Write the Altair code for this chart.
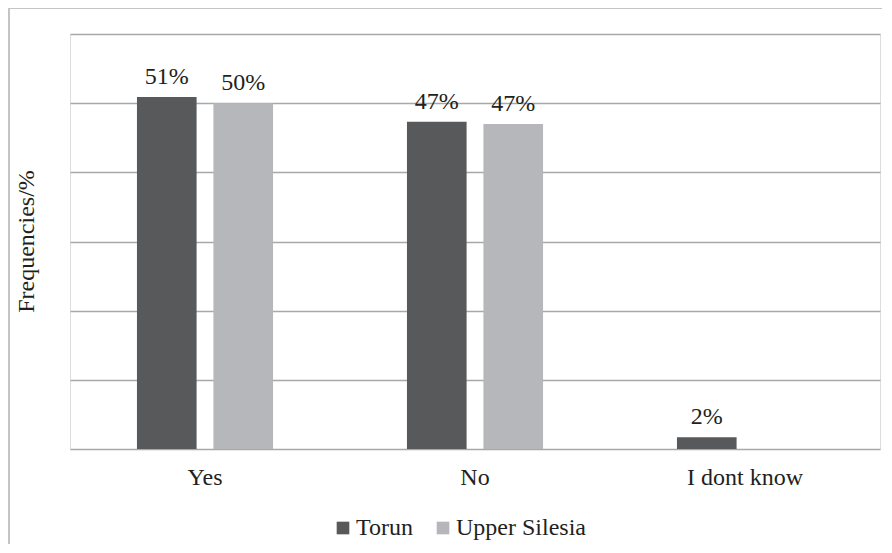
import altair as alt
import pandas as pd

categories = ["Yes", "No", "I dont know"]
series = ["Torun", "Upper Silesia"]
torun = [50.9, 47.3, 1.7]
silesia = [50.0, 47.0, None]
labels_torun = ["51%", "47%", "2%"]
labels_silesia = ["50%", "47%", ""]

rows = []
for i, c in enumerate(categories):
    rows.append({"cat": c, "series": "Torun", "value": torun[i], "label": labels_torun[i]})
    if silesia[i] is not None:
        rows.append({"cat": c, "series": "Upper Silesia", "value": silesia[i], "label": labels_silesia[i]})
df = pd.DataFrame(rows)

FONT = "Liberation Serif"
FS = 24
TXT = "#231f20"

x = alt.X("cat:N", sort=categories, title=None,
          scale=alt.Scale(paddingInner=0.496, paddingOuter=0.248),
          axis=alt.Axis(labelAngle=0, ticks=False, domain=False, labelPadding=16,
                        labelFont=FONT, labelFontSize=FS, labelColor=TXT, grid=False))
xo = alt.XOffset("series:N", sort=series, scale=alt.Scale(paddingInner=0.22, paddingOuter=0))
y = alt.Y("value:Q", title="Frequencies/%",
          scale=alt.Scale(domain=[0, 60], nice=False),
          axis=alt.Axis(values=[0, 10, 20, 30, 40, 50, 60], labels=False, ticks=False, domain=False,
                        grid=True, gridColor="#a8a8a8", gridWidth=1.6,
                        titleFont=FONT, titleFontSize=FS, titleFontWeight="normal",
                        titleColor=TXT, titleX=-32, titleY=207, titleAngle=270))

color = alt.Color("series:N", sort=series, title=None,
                  scale=alt.Scale(domain=series, range=["#58595b", "#b6b7ba"]),
                  legend=alt.Legend(orient="none", direction="horizontal", legendX=261, legendY=482,
                                    symbolType="square", symbolSize=160, symbolStrokeWidth=0,
                                    labelFont=FONT, labelFontSize=FS, labelColor=TXT,
                                    columnPadding=18, symbolOffset=0, labelOffset=1, padding=0))

bars = alt.Chart(df).mark_bar().encode(x=x, xOffset=xo, y=y, color=color)
text = alt.Chart(df).mark_text(font=FONT, fontSize=FS, color=TXT, baseline="alphabetic", dy=-13).encode(
    x=x, xOffset=xo, y=y, text="label:N")

frame_left = alt.Chart(df).mark_rule(color="#c4c4c4", strokeWidth=2).encode(
    x=alt.value(-61), y=alt.value(-26), y2=alt.value(560))
frame_top = alt.Chart(df).mark_rule(color="#c4c4c4", strokeWidth=2).encode(
    y=alt.value(-26), x=alt.value(-61), x2=alt.value(900))

chart = alt.layer(frame_left, frame_top, bars, text).properties(
    width=810, height=415,
    autosize=alt.AutoSizeParams(type="none"),
    padding={"left": 62, "top": 26, "right": 2, "bottom": 95},
).configure_view(stroke=None).configure(background="white", font=FONT)

chart.save("out.html", embed_options={"renderer": "svg", "actions": False})
